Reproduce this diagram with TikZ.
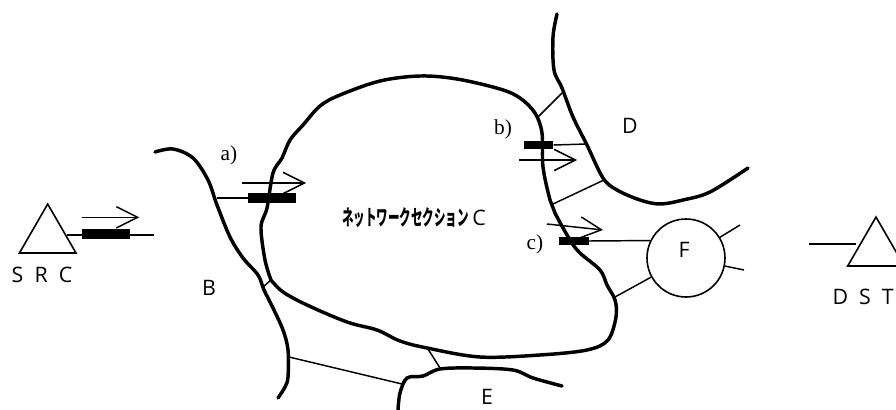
\documentclass[tikz,border=0pt]{standalone}
\usepackage{fontspec}
\setmainfont{Liberation Serif}
\newfontfamily\labelfont{Open Sans}
\newfontfamily\jpfont[FakeStretch=0.54]{Noto Sans CJK JP}
\usetikzlibrary{shapes.geometric, arrows.meta, positioning}

\begin{document}
\begin{tikzpicture}[x=0.75pt, y=-0.75pt]
    % Styles
    \tikzstyle{network} = [line width=2.6pt, line join=round, line cap=round]
    \tikzstyle{link} = [line width=1.1pt]
    \tikzstyle{flow} = [line width=1.1pt, -{Straight Barb[length=16pt, width=16pt, line width=1.1pt]}]
    \tikzstyle{endpoint} = [regular polygon, regular polygon sides=3, draw, line width=1.2pt, minimum size=49pt, inner sep=0pt]
    \tikzstyle{meter} = [rectangle, fill=black, inner sep=0pt]
    \tikzstyle{area} = [font=\labelfont\fontsize{16}{16}\selectfont, inner sep=0pt]
    \tikzstyle{tag} = [font=\fontsize{16}{16}\selectfont, inner sep=0pt]

    \useasboundingbox (0,0) rectangle (896,410);

    % Sections
    \draw[network] plot[smooth, tension=0.55] coordinates {(155,152) (173,149) (193,158) (208,180) (217,205) (230,237) (243,258) (258,275) (264,290) (273,308) (283,330) (288,350) (288,377) (285,387) (278,398)};
    \draw[network] plot[smooth, tension=0.55] coordinates {(271,280) (265,260) (261,227) (267,208) (273,173) (282,158) (290,140) (303,125) (320,106) (340,95) (380,81) (420,76) (457,79) (500,89) (520,98) (535,113) (542,133) (543,167) (550,200) (555,213) (570,240) (580,253) (600,270) (607,285) (615,300) (616,317) (608,340) (587,350) (540,355) (480,357) (427,348) (400,341) (377,330) (347,322) (307,305) (283,292) (271,280)};
    \draw[network] plot[smooth, tension=0.55] coordinates {(557,14) (553,37) (554,70) (562,88) (573,117) (587,145) (603,178) (617,190) (640,200) (660,204) (683,200) (710,192) (748,168)};
    \draw[network] plot[smooth, tension=0.55] coordinates {(398,410) (400,393) (407,378) (423,376) (440,369) (473,368) (513,370) (533,378) (562,386)};

    % Junctions
    \coordinate (srcend) at (154,235);
    \coordinate (dstend) at (809,244);
    \coordinate (bleft) at (217,198);
    \coordinate (bcb) at (263,287);
    \coordinate (bcc) at (271,280);
    \coordinate (be) at (289,357);
    \coordinate (eb) at (402,384);
    \coordinate (ce) at (428,349);
    \coordinate (ec) at (440,368);
    \coordinate (cdc1) at (538,117);
    \coordinate (cdd1) at (562,93);
    \coordinate (cdd2) at (587,144);
    \coordinate (cdc3) at (553,204);
    \coordinate (cdd3) at (604,180);
    \coordinate (cf) at (615,297);
    \coordinate (fout1) at (740,225);
    \coordinate (fout2) at (744,270);

    % Source and destination
    \node[endpoint] (src) at (47.7,236.7) {};
    \node[endpoint] (dst) at (876,249.7) {};
    \node[area] (srclabel) at (42,275) {S\ \ R\ \ C};
    \node[area, anchor=east] (dstlabel) at (894,297) {D\ \ S\ \ T};

    % Meters
    \node[meter, minimum width=36pt, minimum height=7.4pt] (srcmeter) at (106,234.4) {};
    \node[meter, minimum width=36pt, minimum height=7.4pt] (ameter) at (272,198) {};
    \node[meter, minimum width=22pt, minimum height=6pt] (bmeter) at (538.5,145) {};
    \node[meter, minimum width=22pt, minimum height=6pt] (cmeter) at (574,241) {};

    % Node F
    \node[circle, draw, line width=1.2pt, minimum size=58.5pt, inner sep=0pt] (F) at (686,258) {};
    \node[area] (flabel) at (684,250) {F};

    % Labels
    \node[area] (blabel) at (209,288) {B};
    \node[area] (dlabel) at (630,126) {D};
    \node[area] (elabel) at (487,397) {E};
    \node[area] (clabel) at (414,218) {{\jpfont\bfseries\fontsize{16}{16}\selectfont ネットワークセクション}\,C};
    \node[tag] (atag) at (229,155) {a)};
    \node[tag] (btag) at (503,129) {b)};
    \node[tag] (ctag) at (535,244) {c)};

    % Flow arrows
    \coordinate (srcflow) at (81.7,217.3);
    \coordinate (srcflowend) at (139.3,217.3);
    \coordinate (aflow) at (242,183);
    \coordinate (aflowend) at (306,183);
    \coordinate (bflow) at (519,160);
    \coordinate (bflowend) at (577,160);
    \coordinate (cflow) at (547,224);
    \coordinate (cflowend) at (603,230);
    \draw[flow] (srcflow) -- (srcflowend);
    \draw[flow] (aflow) -- (aflowend);
    \draw[flow] (bflow) -- (bflowend);
    \draw[flow] (cflow) -- (cflowend);

    % Links
    \draw[link] (src.east |- srcend) -- (srcmeter.west |- srcend);
    \draw[link] (srcmeter.east |- srcend) -- (srcend);
    \draw[link] (dstend) -- (dst.west |- dstend);
    \draw[link] (bleft) -- (ameter.west);
    \draw[link] (bcb) -- (bcc);
    \draw[link] (be) -- (eb);
    \draw[link] (ce) -- (ec);
    \draw[link] (cdc1) -- (cdd1);
    \draw[link] (bmeter.east) -- (cdd2);
    \draw[link] (cdc3) -- (cdd3);
    \draw[link] (cmeter.east) -- (F.154);
    \draw[link] (cf) -- (F);
    \draw[link] (F) -- (fout1);
    \draw[link] (F) -- (fout2);
\end{tikzpicture}
\end{document}
